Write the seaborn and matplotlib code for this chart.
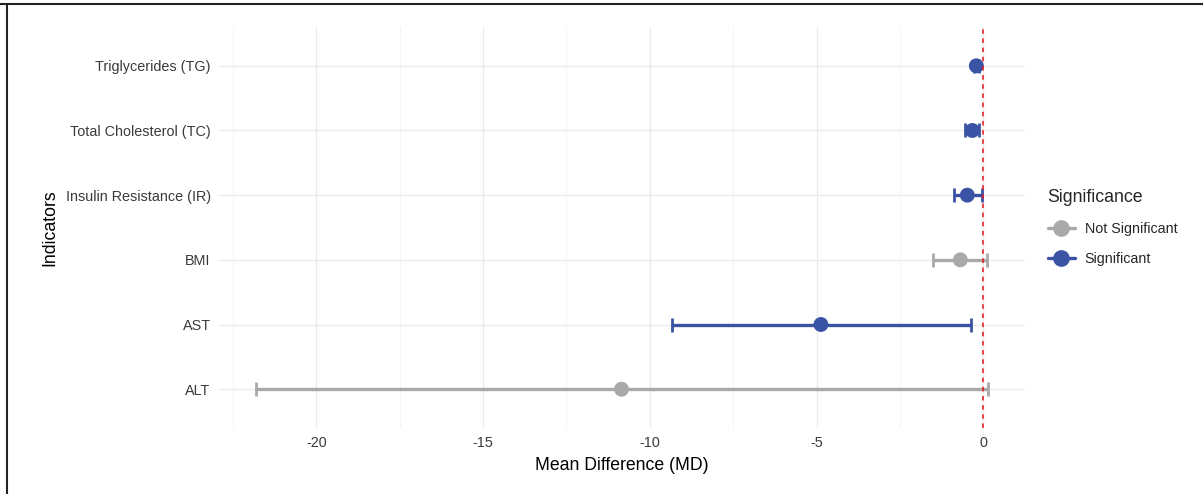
import matplotlib
matplotlib.use("Agg")
import matplotlib.pyplot as plt
from matplotlib.lines import Line2D
from matplotlib.ticker import MultipleLocator
import seaborn as sns
import pandas as pd
import numpy as np

indicators = ["Triglycerides (TG)", "Total Cholesterol (TC)", "Insulin Resistance (IR)",
              "BMI", "AST", "ALT"]
md = [-0.21, -0.33, -0.48, -0.69, -4.87, -10.85]
ci_low = [-0.28, -0.54, -0.87, -1.50, -9.35, -21.82]
ci_high = [-0.14, -0.13, -0.03, 0.12, -0.36, 0.15]
significance = ["Significant", "Significant", "Significant", "Not Significant",
                "Significant", "Not Significant"]

colors = {"Not Significant": "#A9A9A9", "Significant": "#3A53A4"}

df = pd.DataFrame({"Indicator": indicators, "MD": md, "Low": ci_low,
                   "High": ci_high, "Significance": significance})
df["pos"] = np.arange(len(df))

sns.set_theme(style="whitegrid")
plt.rcParams["font.family"] = ["Liberation Sans", "DejaVu Sans"]
plt.rcParams["axes.unicode_minus"] = False

fig = plt.figure(figsize=(12.03, 4.94), dpi=100)
ax = fig.add_axes([219 / 1203, 1 - 428 / 494, (1025 - 219) / 1203, (428 - 27) / 494])

for sig, sub in df.groupby("Significance"):
    ax.errorbar(sub["MD"], sub["pos"],
                xerr=[sub["MD"] - sub["Low"], sub["High"] - sub["MD"]],
                fmt="none", ecolor=colors[sig], elinewidth=2.4, capsize=5,
                capthick=2.0, zorder=2)

sns.scatterplot(data=df, x="MD", y="pos", hue="Significance", palette=colors,
                s=115, edgecolor="none", ax=ax, legend=False, zorder=3)

ax.axvline(0, color="#E8141B", linestyle=(0, (3, 3)), linewidth=1.1, zorder=4)

ax.set_xlim(-22.92, 1.25)
ax.set_ylim(len(df) - 0.4, -0.6)
ax.set_yticks(df["pos"])
ax.set_yticklabels(df["Indicator"])
ax.xaxis.set_major_locator(MultipleLocator(5))
ax.xaxis.set_minor_locator(MultipleLocator(2.5))
ax.grid(True, which="major", color="#EBEBEB", linewidth=1.0)
ax.grid(True, which="minor", axis="x", color="#F2F2F2", linewidth=0.6)
ax.set_axisbelow(True)
for s in ax.spines.values():
    s.set_visible(False)
ax.tick_params(axis="both", which="both", length=0, labelsize=10.4,
               labelcolor="#3A3A3A", pad=6)

ax.set_xlabel("Mean Difference (MD)", fontsize=12.7, color="black", labelpad=5)
ax.set_ylabel("Indicators", fontsize=12.7, color="black", labelpad=5)

handles = [Line2D([0], [0], color=colors[k], marker="o", markersize=11,
                  linewidth=2.4) for k in ["Not Significant", "Significant"]]
leg = ax.legend(handles, ["Not Significant", "Significant"], title="Significance",
                loc="center left", bbox_to_anchor=(1.012, 0.5), frameon=False,
                fontsize=10.3, title_fontsize=12.8, handlelength=1.9,
                labelspacing=1.1, handletextpad=0.7)
leg._legend_box.align = "left"

fig.add_artist(Line2D([0, 1], [1 - 4.5 / 494, 1 - 4.5 / 494], color="#222222",
                      linewidth=1.5, transform=fig.transFigure))
fig.add_artist(Line2D([7 / 1203, 7 / 1203], [0, 1 - 4.5 / 494], color="#222222",
                      linewidth=1.5, transform=fig.transFigure))

fig.savefig("out.png", dpi=100, facecolor="white")
